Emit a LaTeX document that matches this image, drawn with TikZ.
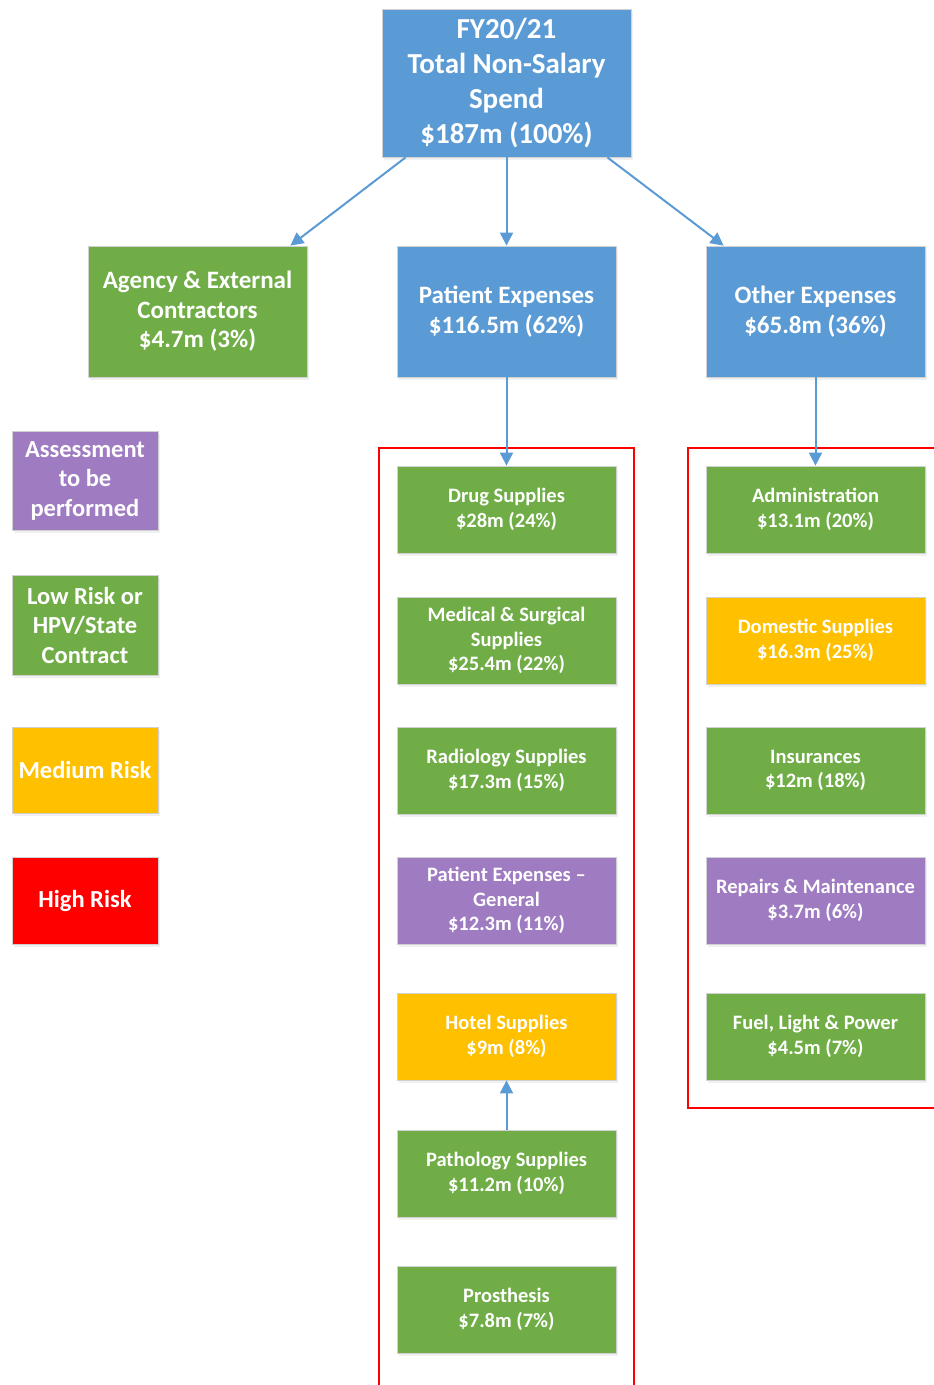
\documentclass[tikz,border=0pt]{standalone}
\usepackage{fontspec}
\setmainfont{Carlito}
\usetikzlibrary{calc,positioning,shadows,arrows.meta}
\definecolor{cellblue}{HTML}{5B9BD5}
\definecolor{cellgreen}{HTML}{70AD47}
\definecolor{cellamber}{HTML}{FFC000}
\definecolor{cellpurple}{HTML}{9F7BC1}
\definecolor{cellred}{HTML}{FF0000}
\begin{document}
\begin{tikzpicture}[x=1pt,y=-1pt,
  cell/.style={draw=black!18,line width=0.8pt,text=white,align=center,
    font=\bfseries\fontsize{20.5}{24.5}\selectfont,
    minimum width=219pt,minimum height=87pt,inner sep=0pt,
    drop shadow={shadow xshift=1.5pt,shadow yshift=-2.5pt,opacity=0.12}},
  big/.style={font=\bfseries\fontsize{25}{29.5}\selectfont,minimum height=131pt},
  key/.style={font=\bfseries\fontsize{24.5}{29.5}\selectfont,minimum width=146pt},
  link/.style={draw=cellblue,line width=2pt,-{Triangle[length=13pt,width=13pt]}},
  frame/.style={draw=cellred,line width=2.8pt}]

\useasboundingbox (0,0) rectangle (934,1385);
\clip (0,0) rectangle (934,1385);

% top of the tree
\node[cell,fill=cellblue,minimum width=249pt,minimum height=148pt,
  font=\bfseries\fontsize{29}{35}\selectfont] (total) at (506.5,83)
  {FY20/21\\Total Non-Salary\\Spend\\\$187m (100\%)};

% second level
\node[cell,big,fill=cellgreen] (agency) at (197.5,311.5) {Agency \& External\\Contractors\\\$4.7m (3\%)};
\node[cell,big,fill=cellblue] (patient) at (506.5,311.5) {Patient Expenses\\\$116.5m (62\%)};
\node[cell,big,fill=cellblue] (other) at (815.5,311.5) {Other Expenses\\\$65.8m (36\%)};

% legend
\node[cell,key,fill=cellpurple,minimum height=99pt] (kassess) at (85,480.5) {Assessment\\to be\\performed};
\node[cell,key,fill=cellgreen,minimum height=100pt] (klow) at (85,625) {Low Risk or\\HPV/State\\Contract};
\node[cell,key,fill=cellamber,minimum height=86pt] (kmedium) at (85,770) {Medium Risk};
\node[cell,key,fill=cellred,minimum height=87pt] (khigh) at (85,900.5) {High Risk};

% red frames
\draw[frame] (379,448) rectangle (634,1400);
\draw[frame] (688,448) rectangle (950,1108);

% patient expenses
\node[cell,fill=cellgreen] (drug) at (506.5,509.5) {Drug Supplies\\\$28m (24\%)};
\node[cell,fill=cellgreen] (medsurg) at (506.5,640.5) {Medical \& Surgical\\Supplies\\\$25.4m (22\%)};
\node[cell,fill=cellgreen] (radio) at (506.5,770.5) {Radiology Supplies\\\$17.3m (15\%)};
\node[cell,fill=cellpurple] (pgeneral) at (506.5,900.5) {Patient Expenses --\\General\\\$12.3m (11\%)};
\node[cell,fill=cellamber] (hotel) at (506.5,1036.5) {Hotel Supplies\\\$9m (8\%)};
\node[cell,fill=cellgreen] (patho) at (506.5,1173.5) {Pathology Supplies\\\$11.2m (10\%)};
\node[cell,fill=cellgreen] (prosth) at (506.5,1309.5) {Prosthesis\\\$7.8m (7\%)};

% other expenses
\node[cell,fill=cellgreen] (admin) at (815.5,509.5) {Administration\\\$13.1m (20\%)};
\node[cell,fill=cellamber] (domestic) at (815.5,640.5) {Domestic Supplies\\\$16.3m (25\%)};
\node[cell,fill=cellgreen] (insur) at (815.5,770.5) {Insurances\\\$12m (18\%)};
\node[cell,fill=cellpurple] (repairs) at (815.5,900.5) {Repairs \& Maintenance\\\$3.7m (6\%)};
\node[cell,fill=cellgreen] (fuel) at (815.5,1036.5) {Fuel, Light \& Power\\\$4.5m (7\%)};

% connectors
\draw[link] ([xshift=24pt]total.south west) -- ([xshift=-17pt]agency.north east);
\draw[link] (total.south) -- (patient.north);
\draw[link] ([xshift=-24pt]total.south east) -- ([xshift=18pt]other.north west);
\draw[link] (patient.south) -- (drug.north);
\draw[link] (other.south) -- (admin.north);
\draw[link] (patho.north) -- (hotel.south);
\end{tikzpicture}
\end{document}
